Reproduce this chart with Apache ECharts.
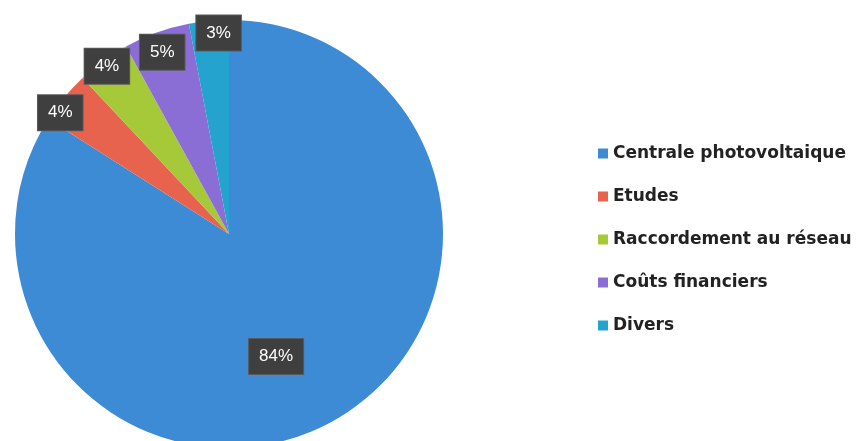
<!DOCTYPE html>
<html>
<head>
<meta charset="utf-8">
<script src="https://cdn.jsdelivr.net/npm/echarts@6/dist/echarts.min.js"></script>
<style>
  html, body { margin: 0; padding: 0; background: #fff; }
  #chart { width: 863px; height: 441px; }
</style>
</head>
<body>
<div id="chart"></div>
<script>
var categories = ['Centrale photovoltaique', 'Etudes', 'Raccordement au réseau', 'Coûts financiers', 'Divers'];
var values = [84, 4, 4, 5, 3];
var colors = ['#3d8bd4', '#e8634e', '#a6c93a', '#8b6dd6', '#24a3cf'];
// small nudges so the boxes sit where the original "best fit" put them
var labelNudge = [[-17, 6], [-10, 10], [-1, -1], [3, 12], [9, 4]];

var chart = echarts.init(document.getElementById('chart'));

var center = [229, 234];
var boxLabel = {
    color: '#fff',
    fontFamily: '"Liberation Sans", sans-serif',
    fontSize: 17,
    backgroundColor: '#3f3f3f',
    borderColor: '#5a5a5a',
    borderWidth: 1,
    padding: [9, 10, 9, 10]
};

function pieData(showFn) {
    return categories.map(function (name, i) {
        return {
            name: name,
            value: values[i],
            label: { show: showFn(i), offset: labelNudge[i] }
        };
    });
}

chart.setOption({
    animation: false,
    color: colors,
    legend: {
        orient: 'vertical',
        left: 593,
        top: 140,
        itemWidth: 10,
        itemHeight: 10,
        itemGap: 26,
        icon: 'rect',
        textStyle: {
            color: '#222',
            fontSize: 17,
            lineHeight: 17,
            fontWeight: 'bold',
            fontFamily: '"DejaVu Sans", sans-serif',
            padding: [0, 0, 0, 0]
        },
        data: categories
    },
    series: [
        {
            // the pie itself
            type: 'pie',
            center: center,
            radius: 214,
            startAngle: 90,
            clockwise: true,
            label: { show: false },
            labelLine: { show: false },
            itemStyle: { borderWidth: 0 },
            data: pieData(function () { return false; })
        },
        {
            // labels near the edge for small slices
            type: 'pie',
            center: center,
            radius: [186, 220],
            startAngle: 90,
            clockwise: true,
            silent: true,
            legendHoverLink: false,
            itemStyle: { color: 'rgba(0,0,0,0)' },
            label: Object.assign({ position: 'inside', formatter: '{c}%' }, boxLabel),
            labelLine: { show: false },
            emphasis: { disabled: true },
            data: pieData(function (i) { return i > 0; })
        },
        {
            // label for the big slice
            type: 'pie',
            center: center,
            radius: [115, 145],
            startAngle: 90,
            clockwise: true,
            silent: true,
            legendHoverLink: false,
            itemStyle: { color: 'rgba(0,0,0,0)' },
            label: Object.assign({ position: 'inside', formatter: '{c}%' }, boxLabel),
            labelLine: { show: false },
            emphasis: { disabled: true },
            data: pieData(function (i) { return i === 0; })
        }
    ]
});
</script>
</body>
</html>
